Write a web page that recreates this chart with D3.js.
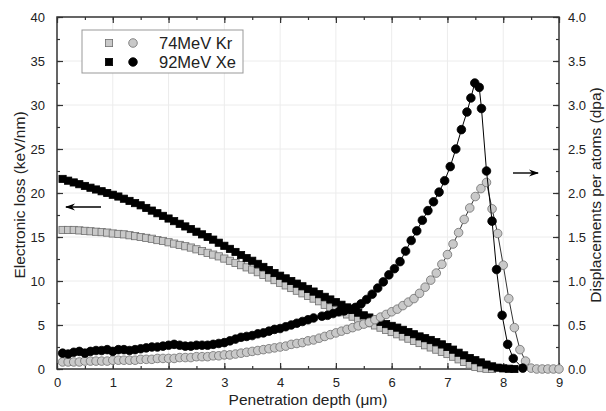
<!DOCTYPE html>
<html><head><meta charset="utf-8">
<script src="https://cdn.jsdelivr.net/npm/d3@7"></script>
<style>body{margin:0;background:#fff}svg{display:block}text{font-family:"Liberation Sans",Arial,sans-serif;fill:#222}</style>
</head><body><svg id="c" width="606" height="411"></svg>
<script>
const depthKrLoss = [0.1,0.2,0.3,0.4,0.5,0.6,0.7,0.8,0.9,1.0,1.1,1.2,1.3,1.4,1.5,1.6,1.7,1.8,1.9,2.0,2.1,2.2,2.3,2.4,2.5,2.6,2.7,2.8,2.9,3.0,3.1,3.2,3.3,3.4,3.5,3.6,3.7,3.8,3.9,4.0,4.1,4.2,4.3,4.4,4.5,4.6,4.7,4.8,4.9,5.0,5.1,5.2,5.3,5.4,5.5,5.6,5.7,5.8,5.9,6.0,6.1,6.2,6.3,6.4,6.5,6.6,6.7,6.8,6.9,7.0,7.1,7.2,7.3,7.4,7.5,7.6,7.7,7.8];
const lossKr = [15.8,15.8,15.8,15.75,15.7,15.65,15.6,15.55,15.5,15.4,15.35,15.3,15.2,15.1,15.0,14.9,14.8,14.65,14.55,14.4,14.25,14.1,13.95,13.8,13.6,13.4,13.2,13.0,12.8,12.55,12.3,12.05,11.8,11.55,11.3,11.0,10.7,10.4,10.1,9.8,9.5,9.2,8.9,8.6,8.3,8.0,7.7,7.3,7.0,6.7,6.45,6.2,5.95,5.7,5.45,5.2,4.95,4.7,4.45,4.2,3.95,3.7,3.45,3.2,2.95,2.7,2.45,2.2,1.95,1.7,1.4,1.1,0.8,0.5,0.25,0.1,0.03,0.0];
const depthXeLoss = [0.1,0.2,0.3,0.4,0.5,0.6,0.7,0.8,0.9,1.0,1.1,1.2,1.3,1.4,1.5,1.6,1.7,1.8,1.9,2.0,2.1,2.2,2.3,2.4,2.5,2.6,2.7,2.8,2.9,3.0,3.1,3.2,3.3,3.4,3.5,3.6,3.7,3.8,3.9,4.0,4.1,4.2,4.3,4.4,4.5,4.6,4.7,4.8,4.9,5.0,5.1,5.2,5.3,5.4,5.5,5.6,5.7,5.8,5.9,6.0,6.1,6.2,6.3,6.4,6.5,6.6,6.7,6.8,6.9,7.0,7.1,7.2,7.3,7.4,7.5,7.6,7.7,7.8,7.9,8.0,8.1,8.2];
const lossXe = [21.6,21.4,21.2,21.0,20.8,20.6,20.4,20.2,20.0,19.8,19.6,19.35,19.1,18.85,18.6,18.3,18.0,17.7,17.4,17.1,16.8,16.5,16.2,15.9,15.6,15.3,15.0,14.7,14.35,14.0,13.65,13.3,12.95,12.6,12.3,11.95,11.6,11.25,10.9,10.6,10.3,10.0,9.7,9.4,9.1,8.8,8.5,8.2,7.9,7.6,7.3,7.0,6.7,6.4,6.1,5.85,5.6,5.35,5.1,4.9,4.7,4.45,4.2,3.95,3.7,3.5,3.3,3.05,2.8,2.5,2.2,1.85,1.55,1.25,1.0,0.75,0.5,0.3,0.15,0.07,0.03,0.0];
const depthKrDpa = [0.1,0.2,0.3,0.4,0.5,0.6,0.7,0.8,0.9,1.0,1.1,1.2,1.3,1.4,1.5,1.6,1.7,1.8,1.9,2.0,2.1,2.2,2.3,2.4,2.5,2.6,2.7,2.8,2.9,3.0,3.1,3.2,3.3,3.4,3.5,3.6,3.7,3.8,3.9,4.0,4.1,4.2,4.3,4.4,4.5,4.6,4.7,4.8,4.9,5.0,5.1,5.2,5.3,5.4,5.5,5.6,5.7,5.8,5.9,6.0,6.1,6.2,6.3,6.4,6.5,6.6,6.7,6.8,6.9,7.0,7.1,7.2,7.3,7.4,7.5,7.6,7.7,7.8,7.9,8.0,8.1,8.2,8.3,8.4,8.5,8.6,8.7,8.8,8.9,9.0];
const dpaKr = [0.08,0.08,0.08,0.08,0.09,0.09,0.09,0.09,0.09,0.1,0.1,0.1,0.1,0.1,0.11,0.11,0.11,0.12,0.12,0.12,0.12,0.13,0.13,0.13,0.14,0.14,0.14,0.15,0.15,0.16,0.16,0.17,0.18,0.19,0.2,0.21,0.22,0.23,0.24,0.25,0.26,0.28,0.29,0.3,0.32,0.33,0.35,0.37,0.39,0.41,0.43,0.45,0.47,0.49,0.51,0.53,0.56,0.59,0.62,0.65,0.68,0.72,0.76,0.8,0.86,0.93,1.01,1.09,1.19,1.3,1.42,1.55,1.7,1.83,1.96,2.05,2.12,1.82,1.54,1.18,0.8,0.47,0.22,0.09,0.01,0,0,0,0,0];
const depthXeDpa = [0.1,0.2,0.3,0.4,0.5,0.6,0.7,0.8,0.9,1.0,1.1,1.2,1.3,1.4,1.5,1.6,1.7,1.8,1.9,2.0,2.1,2.2,2.3,2.4,2.5,2.6,2.7,2.8,2.9,3.0,3.1,3.2,3.3,3.4,3.5,3.6,3.7,3.8,3.9,4.0,4.1,4.2,4.3,4.4,4.5,4.6,4.75,4.85,4.95,5.05,5.15,5.25,5.35,5.45,5.55,5.65,5.75,5.85,5.95,6.05,6.15,6.25,6.35,6.45,6.55,6.65,6.75,6.85,6.95,7.05,7.15,7.25,7.35,7.42,7.49,7.57,7.61,7.7,7.8,7.88,7.98,8.08,8.18,8.35];
const dpaXe = [0.18,0.17,0.19,0.2,0.18,0.2,0.21,0.21,0.22,0.2,0.22,0.22,0.21,0.22,0.23,0.24,0.25,0.25,0.26,0.27,0.28,0.27,0.26,0.26,0.27,0.27,0.27,0.28,0.29,0.3,0.32,0.34,0.36,0.37,0.38,0.4,0.41,0.43,0.45,0.46,0.48,0.5,0.52,0.54,0.56,0.58,0.6,0.61,0.63,0.65,0.66,0.68,0.7,0.74,0.79,0.85,0.92,0.99,1.07,1.14,1.22,1.34,1.46,1.57,1.69,1.8,1.9,2.01,2.14,2.3,2.5,2.72,2.92,3.08,3.25,3.2,2.96,2.25,1.68,1.13,0.61,0.28,0.12,0.01];
const xTicks = [0,1,2,3,4,5,6,7,8,9];
const yLeftTicks = [0,5,10,15,20,25,30,35,40];
const yRightTicks = [0,0.5,1,1.5,2,2.5,3,3.5,4];
const seriesNames = ["74MeV Kr","92MeV Xe"];

const svg = d3.select("#c");
const L=57,R=559,T=17,B=369;
const x = d3.scaleLinear().domain([0,9]).range([L,R]);
const yL = d3.scaleLinear().domain([0,40]).range([B,T]);
const yR = d3.scaleLinear().domain([0,4]).range([B,T]);
const axisCol="#333";

// grid
const g = svg.append("g");
g.selectAll(".gv").data(xTicks.slice(1,-1)).join("line").attr("x1",d=>x(d)).attr("x2",d=>x(d)).attr("y1",T).attr("y2",B).attr("stroke","#ececec").attr("stroke-width",1);
g.selectAll(".gh").data(yLeftTicks.slice(1,-1)).join("line").attr("y1",d=>yL(d)).attr("y2",d=>yL(d)).attr("x1",L).attr("x2",R).attr("stroke","#ececec").attr("stroke-width",1);

// axes
function styleAxis(sel){sel.select(".domain").remove();sel.selectAll(".tick line").attr("stroke",axisCol).attr("stroke-width",1.2);sel.selectAll("text").style("font-size","13px").attr("fill","#333");}
const xMinor = d3.range(0,9.01,0.5);
svg.append("g").attr("transform",`translate(0,${B})`).call(d3.axisBottom(x).tickValues(xMinor).tickSize(-3).tickFormat("")).call(styleAxis);
svg.append("g").attr("transform",`translate(0,${B})`).call(d3.axisBottom(x).tickValues(xTicks).tickSize(-6).tickPadding(9).tickFormat(d3.format("d"))).call(styleAxis);
svg.append("g").attr("transform",`translate(0,${T})`).call(d3.axisTop(x).tickValues(xMinor).tickSize(-3).tickFormat("")).call(styleAxis);
svg.append("g").attr("transform",`translate(0,${T})`).call(d3.axisTop(x).tickValues(xTicks).tickSize(-6).tickFormat("")).call(styleAxis);
svg.append("g").attr("transform",`translate(${L},0)`).call(d3.axisLeft(yL).tickValues(d3.range(0,40.01,2.5)).tickSize(-3).tickFormat("")).call(styleAxis);
svg.append("g").attr("transform",`translate(${L},0)`).call(d3.axisLeft(yL).tickValues(yLeftTicks).tickSize(-6).tickPadding(12).tickFormat(d3.format("d"))).call(styleAxis);
svg.append("g").attr("transform",`translate(${R},0)`).call(d3.axisRight(yR).tickValues(d3.range(0,4.01,0.25)).tickSize(-3).tickFormat("")).call(styleAxis);
svg.append("g").attr("transform",`translate(${R},0)`).call(d3.axisRight(yR).tickValues(yRightTicks).tickSize(-6).tickPadding(9).tickFormat(d3.format(".1f"))).call(styleAxis);
svg.append("rect").attr("x",L).attr("y",T).attr("width",R-L).attr("height",B-T).attr("fill","none").attr("stroke",axisCol).attr("stroke-width",1.5);

// data
const plot = svg.append("g");
const sq=7.2, cr=4.3;
const grayFill="#c9c9c9", grayStroke="#6e6e6e";
function squares(xs,ys,fill,stroke){
  plot.append("g").selectAll("rect").data(xs.map((d,i)=>[d,ys[i]])).join("rect")
   .attr("x",d=>x(d[0])-sq/2).attr("y",d=>yL(d[1])-sq/2).attr("width",sq).attr("height",sq)
   .attr("fill",fill).attr("stroke",stroke).attr("stroke-width",0.8);
}
function circles(xs,ys,fill,stroke,lineCol){
  const pts = xs.map((d,i)=>[d,ys[i]]);
  plot.append("path").datum(pts).attr("d",d3.line().x(d=>x(d[0])).y(d=>yR(d[1]))).attr("fill","none").attr("stroke",lineCol).attr("stroke-width",1);
  plot.append("g").selectAll("circle").data(pts).join("circle")
   .attr("cx",d=>x(d[0])).attr("cy",d=>yR(d[1])).attr("r",cr)
   .attr("fill",fill).attr("stroke",stroke).attr("stroke-width",0.8);
}
squares(depthKrLoss,lossKr,grayFill,grayStroke);
squares(depthXeLoss,lossXe,"#000","#000");
circles(depthKrDpa,dpaKr,grayFill,grayStroke,"#333");
circles(depthXeDpa,dpaXe,"#000","#000","#000");

// arrows
const defs=svg.append("defs");
defs.append("marker").attr("id","ah").attr("viewBox","0 0 10 10").attr("refX",9).attr("refY",5).attr("markerWidth",10).attr("markerHeight",10).attr("markerUnits","userSpaceOnUse").attr("orient","auto")
 .append("path").attr("d","M0,1.5 L10,5 L0,8.5 L3,5 Z").attr("fill","#000");
svg.append("line").attr("x1",101).attr("y1",207).attr("x2",66).attr("y2",207).attr("stroke","#000").attr("stroke-width",1.4).attr("marker-end","url(#ah)");
svg.append("line").attr("x1",513).attr("y1",173).attr("x2",538).attr("y2",173).attr("stroke","#000").attr("stroke-width",1.4).attr("marker-end","url(#ah)");

// legend
svg.append("rect").attr("x",82).attr("y",30).attr("width",161).attr("height",43).attr("fill","#fff").attr("stroke","#999").attr("stroke-width",1);
const legY=[43,62];
const legFill=[grayFill,"#000"], legStroke=[grayStroke,"#000"];
seriesNames.forEach((n,i)=>{
  svg.append("rect").attr("x",109-sq/2).attr("y",legY[i]-sq/2).attr("width",sq).attr("height",sq).attr("fill",legFill[i]).attr("stroke",legStroke[i]).attr("stroke-width",0.8);
  svg.append("circle").attr("cx",133).attr("cy",legY[i]).attr("r",cr).attr("fill",legFill[i]).attr("stroke",legStroke[i]).attr("stroke-width",0.8);
  svg.append("text").attr("x",159).attr("y",legY[i]+6).style("font-size","16.5px").text(n);
});

// titles
svg.append("text").attr("transform","translate(25,195) rotate(-90)").attr("text-anchor","middle").style("font-size","15.5px").text("Electronic loss (keV/nm)");
svg.append("text").attr("transform","translate(601,195) rotate(-90)").attr("text-anchor","middle").style("font-size","15.5px").text("Displacements per atoms (dpa)");
svg.append("text").attr("x",308).attr("y",405).attr("text-anchor","middle").style("font-size","15.5px").text("Penetration depth (μm)");
</script></body></html>
